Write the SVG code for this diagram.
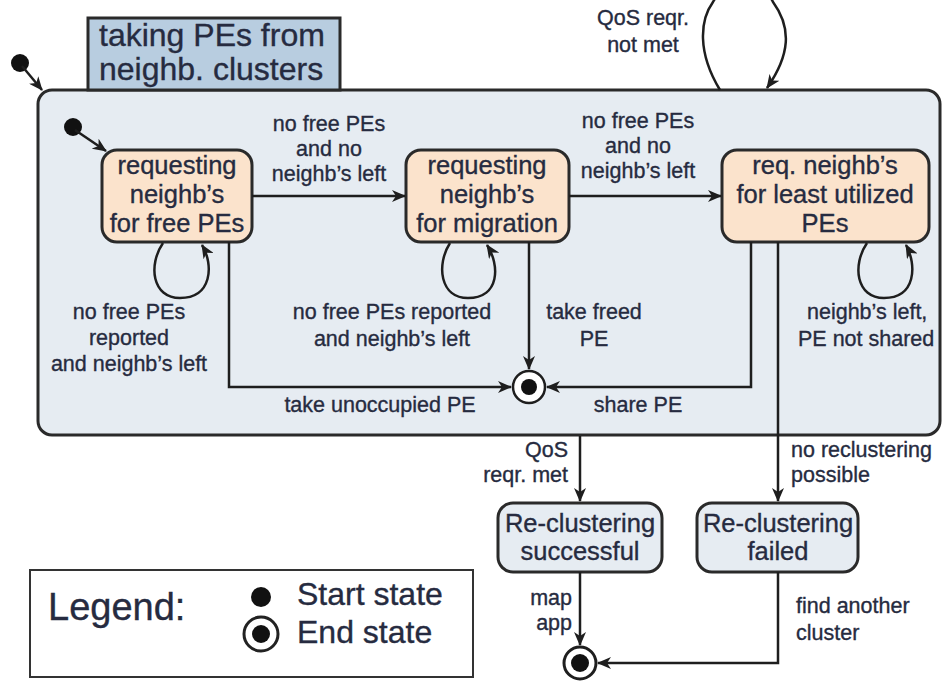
<svg xmlns="http://www.w3.org/2000/svg" width="942" height="681" viewBox="0 0 942 681">
<defs>
<marker id="ah" viewBox="0 0 14 12" refX="13" refY="6" markerWidth="14" markerHeight="12" markerUnits="userSpaceOnUse" orient="auto">
<path d="M0,0 L14,6 L0,12 L4,6 z" fill="#1e1e1e"/>
</marker>
<style>
.t{font-family:"Liberation Sans",Arial,sans-serif;fill:#262b40;stroke:#262b40;stroke-width:0.35}
.lbl{font-size:21.5px;text-anchor:middle}
.lb{font-size:21.5px}
.st{font-size:25.5px;text-anchor:middle}
.ln{fill:none;stroke:#1e1e1e;stroke-width:2.5}
.box{stroke:#2a2a2a;stroke-width:3}
.orange{fill:#fbe3cc}
.grey{fill:#e6ecf2}
</style>
</defs>
<rect width="942" height="681" fill="#ffffff"/>

<g id="container">
<rect x="38" y="90" width="902" height="345" rx="14" fill="#e6ecf2" stroke="#2a2a2a" stroke-width="3"/>
</g>
<g id="title">
<rect x="88" y="18" width="252" height="72" fill="#b8cde0" stroke="#2a2a2a" stroke-width="3"/>
<text class="t" x="99" y="46" font-size="32">taking PEs from</text>
<text class="t" x="99" y="80" font-size="32">neighb. clusters</text>
</g>

<g id="start-outer"><circle cx="20" cy="63" r="9" fill="#111"/></g>
<g id="start-inner"><circle cx="73" cy="127" r="9" fill="#111"/></g>

<g id="s1">
<rect class="box orange" x="102" y="150" width="150" height="92" rx="15"/>
<text class="t st" x="177" y="174">requesting</text>
<text class="t st" x="177" y="203">neighb’s</text>
<text class="t st" x="177" y="232">for free PEs</text>
</g>
<g id="s2">
<rect class="box orange" x="406" y="150" width="163" height="92" rx="15"/>
<text class="t st" x="487" y="174">requesting</text>
<text class="t st" x="487" y="203">neighb’s</text>
<text class="t st" x="487" y="232">for migration</text>
</g>
<g id="s3">
<rect class="box orange" x="722" y="150" width="207" height="92" rx="15"/>
<text class="t st" x="825" y="174">req. neighb’s</text>
<text class="t st" x="825" y="203">for least utilized</text>
<text class="t st" x="825" y="232">PEs</text>
</g>

<g id="end-inner">
<circle cx="529" cy="387" r="16" fill="#ffffff" stroke="#1e1e1e" stroke-width="2.5"/>
<circle cx="529" cy="387" r="8" fill="#111"/>
</g>

<g id="success">
<rect class="box grey" x="498" y="503" width="164" height="69" rx="15"/>
<text class="t st" x="580" y="532">Re-clustering</text>
<text class="t st" x="580" y="560">successful</text>
</g>
<g id="failed">
<rect class="box grey" x="697" y="503" width="161" height="69" rx="15"/>
<text class="t st" x="778" y="532">Re-clustering</text>
<text class="t st" x="778" y="560">failed</text>
</g>

<g id="end-final">
<circle cx="580" cy="663" r="16" fill="#ffffff" stroke="#1e1e1e" stroke-width="3"/>
<circle cx="580" cy="663" r="9" fill="#111"/>
</g>

<g id="legend">
<rect x="30" y="570" width="443" height="107" fill="#ffffff" stroke="#333" stroke-width="2"/>
<text class="t" x="48" y="620" font-size="38">Legend:</text>
<circle cx="261" cy="597" r="10" fill="#111"/>
<circle cx="261" cy="634" r="17" fill="#ffffff" stroke="#222" stroke-width="3"/>
<circle cx="261" cy="634" r="9" fill="#111"/>
<text class="t" x="297" y="605" font-size="32">Start state</text>
<text class="t" x="297" y="643" font-size="32">End state</text>
</g>

<g id="connectors">
<path class="ln" d="M22,66 L42,90" marker-end="url(#ah)"/>
<path class="ln" d="M75,130 L106,151" marker-end="url(#ah)"/>
<path class="ln" d="M252,196 L405,196" marker-end="url(#ah)"/>
<path class="ln" d="M569,196 L721,196" marker-end="url(#ah)"/>
<path class="ln" d="M163,243 C148,265 152,298 180,298 C212,298 214,265 202,245" marker-end="url(#ah)"/>
<path class="ln" d="M450,243 C436,265 440,298 468,298 C500,298 500,265 487,245" marker-end="url(#ah)"/>
<path class="ln" d="M867,243 C852,265 856,298 884,298 C916,298 917,265 906,245" marker-end="url(#ah)"/>
<path class="ln" d="M529,242 L529,369" marker-end="url(#ah)"/>
<path class="ln" d="M229,242 L229,387 L511,387" marker-end="url(#ah)"/>
<path class="ln" d="M751,242 L751,387 L547,387" marker-end="url(#ah)"/>
<path class="ln" d="M778,242 L778,501" marker-end="url(#ah)"/>
<path class="ln" d="M580,436 L580,501" marker-end="url(#ah)"/>
<path class="ln" d="M580,572 L580,645" marker-end="url(#ah)"/>
<path class="ln" d="M778,572 L778,663 L598,663" marker-end="url(#ah)"/>
<path class="ln" d="M720,90 C697,52 700,20 713,2 C728,-25 760,-25 773,2 C792,28 790,55 767,88" marker-end="url(#ah)"/>
</g>

<g id="labels">
<text class="t lbl" x="643" y="25">QoS reqr.</text>
<text class="t lbl" x="643" y="52">not met</text>
<text class="t lbl" x="329" y="131">no free PEs</text>
<text class="t lbl" x="329" y="156">and no</text>
<text class="t lbl" x="329" y="181">neighb’s left</text>
<text class="t lbl" x="638" y="128">no free PEs</text>
<text class="t lbl" x="638" y="153">and no</text>
<text class="t lbl" x="638" y="178">neighb’s left</text>
<text class="t lbl" x="129" y="319">no free PEs</text>
<text class="t lbl" x="129" y="345">reported</text>
<text class="t lbl" x="129" y="371">and neighb’s left</text>
<text class="t lbl" x="392" y="319">no free PEs reported</text>
<text class="t lbl" x="392" y="346">and neighb’s left</text>
<text class="t lbl" x="594" y="319">take freed</text>
<text class="t lbl" x="594" y="346">PE</text>
<text class="t lb" x="807" y="319">neighb’s left,</text>
<text class="t lb" x="798" y="346">PE not shared</text>
<text class="t lbl" x="380" y="412">take unoccupied PE</text>
<text class="t lbl" x="638" y="412">share PE</text>
<text class="t lb" x="568" y="457" text-anchor="end">QoS</text>
<text class="t lb" x="568" y="482" text-anchor="end">reqr. met</text>
<text class="t lb" x="791" y="457">no reclustering</text>
<text class="t lb" x="791" y="482">possible</text>
<text class="t lb" x="572" y="605" text-anchor="end">map</text>
<text class="t lb" x="572" y="630" text-anchor="end">app</text>
<text class="t lb" x="796" y="613">find another</text>
<text class="t lb" x="796" y="640">cluster</text>
</g>
</svg>
